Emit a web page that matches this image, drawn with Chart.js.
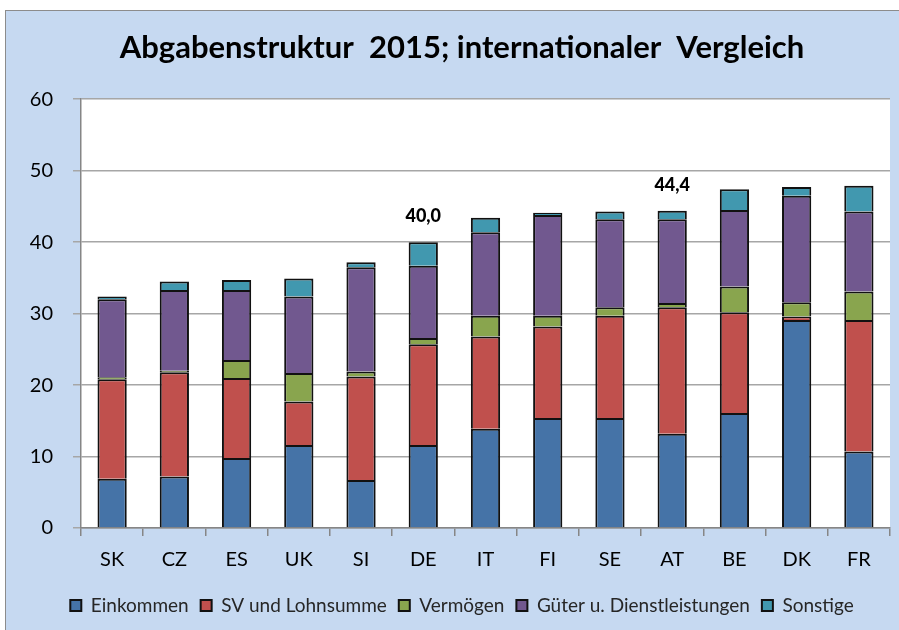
<!DOCTYPE html>
<html>
<head>
<meta charset="utf-8">
<script src="https://cdn.jsdelivr.net/npm/chart.js@4.4.1/dist/chart.umd.min.js"></script>
<style>
  html, body { margin: 0; padding: 0; background: #fff; }
  #wrap {
    position: absolute; left: 5px; top: 10px; width: 894px; height: 620px;
    border-left: 1px solid #8c8c8c; border-top: 1px solid #8c8c8c;
    background: #c6d9f1;
  }
</style>
</head>
<body>
<div id="wrap"><canvas id="myChart" width="893" height="619"></canvas></div>
<script>
// countries on the x axis
const countries = ["SK", "CZ", "ES", "UK", "SI", "DE", "IT", "FI", "SE", "AT", "BE", "DK", "FR"];

// shares in % of GDP
const einkommen = [6.9, 7.2, 9.8, 11.6, 6.7, 11.6, 13.9, 15.4, 15.4, 13.2, 16.1, 29.1, 10.7];
const svLohn    = [13.9, 14.6, 11.2, 6.1, 14.5, 14.1, 12.9, 12.8, 14.3, 17.7, 14.1, 0.5, 18.4];
const vermoegen = [0.3, 0.2, 2.5, 4.0, 0.7, 0.9, 2.9, 1.5, 1.2, 0.6, 3.6, 2.0, 4.0];
const gueter    = [10.9, 11.3, 9.8, 10.7, 14.6, 10.1, 11.7, 14.1, 12.3, 11.7, 10.7, 14.9, 11.2];
const sonstige  = [0.4, 1.2, 1.4, 2.5, 0.7, 3.3, 2.0, 0.3, 1.1, 1.2, 2.9, 1.2, 3.6];

// totals printed above these bars
const labelled = ["DE", "AT"];

const FONT = "Lato, 'Open Sans', sans-serif";

const chartData = {
  labels: countries,
  datasets: [
    { label: "Einkommen", data: einkommen, backgroundColor: "#4573a7" },
    { label: "SV und Lohnsumme", data: svLohn, backgroundColor: "#c0504d" },
    { label: "Vermögen", data: vermoegen, backgroundColor: "#89a54e" },
    { label: "Güter u. Dienstleistungen", data: gueter, backgroundColor: "#71588f" },
    { label: "Sonstige", data: sonstige, backgroundColor: "#4198af" },
  ].map((d) => ({
    ...d,
    borderColor: "#111",
    borderWidth: 2,
    barPercentage: 0.47,
    categoryPercentage: 1,
  })),
};

// white plot area
const plotBg = {
  id: "plotBg",
  beforeDraw(chart) {
    const a = chart.chartArea;
    const ctx = chart.ctx;
    ctx.save();
    ctx.fillStyle = "#fff";
    ctx.fillRect(a.left, a.top, a.right - a.left, a.bottom - a.top);
    ctx.restore();
  },
};

// let the y labels use the left padding too (else they get clipped)
const widenY = {
  id: "widenY",
  afterLayout(chart) {
    const y = chart.scales.y;
    y.left -= 28;
    y.width += 28;
  },
};

// total labels (German decimal comma)
const totalLabels = {
  id: "totalLabels",
  afterDatasetsDraw(chart) {
    const ctx = chart.ctx;
    const x = chart.scales.x;
    const y = chart.scales.y;
    ctx.save();
    ctx.font = "900 18px " + FONT;
    ctx.fillStyle = "#000";
    ctx.textAlign = "center";
    ctx.textBaseline = "middle";
    labelled.forEach((c) => {
      const i = countries.indexOf(c);
      const total = chart.data.datasets.reduce((s, d) => s + d.data[i], 0);
      ctx.fillText(total.toFixed(1).replace(".", ","), x.getPixelForValue(i), y.getPixelForValue(total) - 26);
    });
    ctx.restore();
  },
};

const ctx = document.getElementById("myChart").getContext("2d");
const myChart = new Chart(ctx, {
  type: "bar",
  data: chartData,
  plugins: [plotBg, widenY, totalLabels],
  options: {
    responsive: false,
    animation: false,
    layout: { padding: { left: 28, right: 9, top: 0, bottom: 5 } },
    plugins: {
      title: {
        display: true,
        text: "Abgabenstruktur  2015; internationaler  Vergleich",
        color: "#000",
        font: { family: FONT, size: 31, weight: "bold" },
        padding: { top: 18, bottom: 33 },
      },
      legend: {
        position: "bottom",
        labels: {
          color: "#262626",
          font: { family: FONT, size: 19 },
          boxWidth: 11,
          boxHeight: 11,
          padding: 12,
        },
      },
      tooltip: { enabled: false },
    },
    scales: {
      x: {
        stacked: true,
        grid: { drawOnChartArea: false, tickLength: 8, color: "#868686", lineWidth: 1.5 },
        border: { color: "#868686", width: 1.5 },
        ticks: { color: "#000", font: { family: FONT, size: 20 }, padding: 12 },
      },
      y: {
        stacked: true,
        min: 0,
        max: 60,
        afterFit: (s) => { s.width = 47; },
        grid: { color: "#a6a6a6", lineWidth: 1.5, tickLength: 8 },
        border: { color: "#868686", width: 1.5 },
        ticks: { stepSize: 10, color: "#000", font: { family: FONT, size: 20 }, padding: 20 },
      },
    },
  },
});
</script>
</body>
</html>
